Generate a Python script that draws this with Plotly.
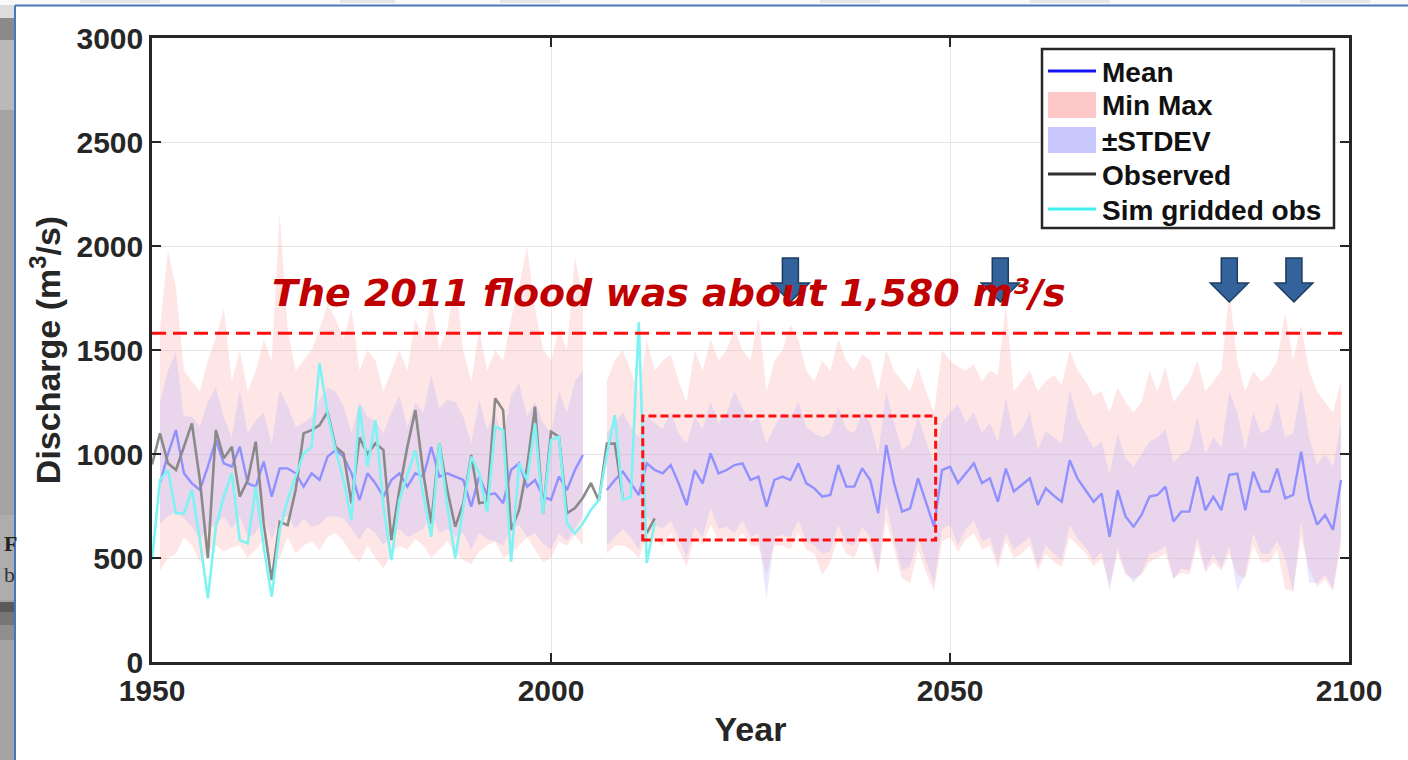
import plotly.graph_objects as go

# ---------------- data ----------------
years_obs = list(range(1950, 2014))
observed = [950, 1099, 955, 923, 1035, 1147, 875, 500, 1115, 979,
            1035, 795, 875, 1059, 666, 394, 674, 658, 827, 1099,
            1115, 1139, 1203, 1035, 1003, 763, 1080, 1000, 1051, 1019,
            586, 827, 1035, 1211, 907, 666, 1051, 827, 650, 763,
            995, 763, 771, 1268, 1211, 634, 731, 939, 1227, 715,
            1107, 1083, 715, 740, 790, 860, 775, 1050, 1050, 790,
            None, None, 620, 690]
sim_gridded = [490, 875, 923, 715, 715, 827, 586, 306, 650, 795,
               907, 586, 570, 843, 554, 314, 634, 779, 891, 1003,
               1035, 1436, 1195, 1019, 875, 682, 1227, 939, 1163, 747,
               490, 780, 900, 1019, 800, 602, 1051, 750, 498, 750,
               987, 907, 720, 1131, 1115, 482, 955, 875, 1147, 715,
               1067, 1083, 666, 618, 666, 731, 779, 1000, 1187, 779,
               795, 1635, 476, 668]

years_hist = list(range(1951, 2005))
mean_hist = [859, 1000, 1115, 907, 859, 827, 939, 1067, 955, 939,
             1035, 859, 843, 963, 795, 931, 931, 907, 843, 907,
             875, 987, 1019, 987, 907, 779, 907, 859, 795, 875,
             907, 843, 907, 891, 1035, 891, 907, 891, 875, 747,
             891, 803, 811, 763, 923, 955, 843, 875, 795, 779,
             891, 827, 923, 995]
sdhi_hist = [1250, 1400, 1490, 1180, 1180, 1130, 1250, 1320, 1180, 1080,
             1310, 1100, 1160, 1200, 1050, 1310, 1230, 1130, 1150, 1180,
             1260, 1320, 1300, 1230, 1100, 1250, 1180, 1160, 1100, 1200,
             1280, 1130, 1250, 1200, 1380, 1220, 1260, 1250, 1180, 1050,
             1260, 1120, 1200, 1080, 1280, 1340, 1180, 1250, 1150, 1100,
             1300, 1200, 1350, 1400]
sdlo_hist = [666, 700, 720, 690, 650, 586, 640, 660, 700, 640,
             700, 600, 620, 700, 586, 690, 700, 640, 690, 650,
             660, 700, 700, 690, 640, 586, 650, 620, 560, 620,
             640, 600, 620, 640, 720, 620, 640, 600, 620, 540,
             620, 590, 580, 560, 640, 660, 600, 620, 570, 540,
             620, 580, 640, 700]
min_hist = [440, 500, 520, 600, 560, 480, 530, 560, 530, 550,
            560, 500, 540, 590, 470, 500, 600, 520, 560, 580,
            540, 600, 620, 580, 520, 480, 560, 500, 450, 520,
            560, 540, 590, 560, 500, 540, 580, 520, 490, 470,
            530, 560, 580, 500, 520, 560, 600, 540, 480, 500,
            580, 560, 610, 560]
max_hist = [1600, 1980, 1800, 1400, 1350, 1300, 1450, 1560, 1700, 1350,
            1500, 1300, 1400, 1550, 1450, 2150, 1600, 1400, 1450, 1500,
            1600, 1720, 1650, 1550, 1700, 1400, 1500, 1450, 1300, 1400,
            1500, 1400, 1650, 1550, 1750, 1500, 1600, 1850, 1500, 1350,
            1600, 1400, 1500, 1450, 1650, 1800, 2000, 1700, 1500, 1450,
            1600, 1500, 1950, 1750]

years_fut = list(range(2007, 2100))
mean_fut = [827, 875, 915, 859,
            803, 955, 923, 907, 947, 859, 755, 923, 859, 1003,
            907, 923, 947, 955, 875, 891, 747, 875, 891, 875,
            955, 859, 835, 795, 803, 947, 843, 843, 931, 875,
            715, 1043, 859, 723, 739, 883, 763, 651, 923, 939,
            860, 910, 955, 860, 883, 770, 930, 820, 850, 883,
            755, 835, 800, 770, 970, 880, 826, 770, 810, 602,
            826, 700, 650, 707, 795, 803, 843, 675, 723, 723,
            890, 730, 795, 730, 900, 906, 730, 915, 820, 820,
            930, 787, 803, 1011, 780, 660, 707, 635, 875]
sdhi_fut = [1100, 1150, 1200, 1130,
            1080, 1180, 1150, 1120, 1200, 1100, 1050, 1180, 1120, 1250,
            1150, 1200, 1300, 1220, 1150, 1180, 1050, 1130, 1200, 1170,
            1250, 1130, 1100, 1080, 1100, 1230, 1120, 1100, 1200, 1150,
            1000, 1300, 1150, 1020, 1050, 1180, 1060, 950, 1150, 1200,
            1240, 1150, 1200, 1100, 1150, 1060, 1270, 1080, 1120, 1200,
            1020, 1110, 1080, 1050, 1310, 1170, 1100, 1030, 1060, 900,
            1100, 980, 940, 1000, 1060, 1080, 1120, 960, 1000, 1020,
            1180, 1000, 1080, 1030, 1300, 1200, 1020, 1200, 1100, 1120,
            1250, 1080, 1100, 1320, 1080, 950, 1000, 940, 1150]
sdlo_fut = [560, 600, 640, 600,
            540, 700, 660, 640, 680, 600, 500, 650, 600, 740,
            640, 650, 620, 680, 600, 620, 300, 600, 610, 600,
            680, 580, 560, 520, 530, 660, 570, 560, 650, 600,
            440, 760, 580, 440, 460, 600, 480, 380, 640, 660,
            560, 640, 680, 580, 600, 480, 620, 540, 570, 600,
            460, 560, 520, 490, 660, 590, 550, 490, 530, 340,
            550, 430, 380, 430, 520, 530, 560, 400, 450, 440,
            600, 440, 520, 450, 560, 340, 420, 620, 520, 520,
            580, 500, 330, 680, 380, 380, 420, 350, 600]
min_fut = [520, 560, 560, 540,
           500, 600, 590, 560, 620, 540, 460, 600, 560, 660,
           580, 600, 580, 620, 560, 560, 420, 560, 560, 540,
           620, 540, 520, 420, 480, 600, 520, 500, 600, 560,
           420, 680, 540, 400, 380, 540, 430, 340, 580, 600,
           530, 590, 620, 540, 560, 450, 580, 500, 520, 560,
           440, 520, 480, 460, 600, 560, 520, 460, 500, 370,
           520, 420, 400, 420, 480, 500, 520, 400, 430, 420,
           560, 430, 480, 440, 520, 420, 400, 560, 480, 480,
           540, 350, 340, 600, 450, 360, 400, 340, 560]
max_fut = [1350, 1450, 1500, 1400,
           1300, 1550, 1400, 1450, 1480, 1350, 1250, 1500, 1400, 1550,
           1450, 1500, 1600, 1500, 1450, 1660, 1300, 1450, 1500, 1620,
           1550, 1400, 1350, 1450, 1400, 1550, 1450, 1400, 1480, 1450,
           1300, 1500, 1400, 1350, 1300, 1420, 1300, 1200, 1500, 1450,
           1420, 1400, 1430, 1350, 1400, 1380, 1720, 1300, 1350, 1400,
           1300, 1350, 1380, 1330, 1500, 1400, 1350, 1280, 1300, 1200,
           1320, 1250, 1200, 1250, 1400, 1300, 1420, 1250, 1300, 1350,
           1450, 1300, 1350, 1400, 1780, 1450, 1300, 1400, 1350, 1380,
           1450, 1680, 1450, 1620, 1400, 1300, 1250, 1200, 1350]

flood_level = 1580
arrow_years = [2030.0, 2056.3, 2085.0, 2093.1]
box_years = [2011.5, 2048.2]
box_values = [587, 1183]
x_ticks = [1950, 2000, 2050, 2100]
y_ticks = [0, 500, 1000, 1500, 2000, 2500, 3000]
legend_names = ["Mean", "Min Max", "±STDEV", "Observed", "Sim gridded obs"]
legend_kinds = ["line", "patch", "patch", "line", "line"]
legend_colors = ["#1414f5", "#ffc8c8", "#c8c8ff", "#303030", "#40f0f0"]

# ---------------- styles ----------------
W, H = 1408, 760
L, R, T, B = 152, 59, 38, 98
PINK = "rgba(255,160,160,0.26)"
LAV = "rgba(170,170,255,0.26)"
FONT = "Liberation Sans, Arial, sans-serif"

fig = go.Figure()

def band(xs, lo, hi, color, name):
    fig.add_trace(go.Scatter(x=xs, y=lo, mode="lines", line=dict(width=0),
                             hoverinfo="skip", showlegend=False))
    fig.add_trace(go.Scatter(x=xs, y=hi, mode="lines", line=dict(width=0),
                             fill="tonexty", fillcolor=color, name=name,
                             showlegend=False))

band(years_hist, min_hist, max_hist, PINK, "Min Max")
band(years_fut, min_fut, max_fut, PINK, "Min Max")
band(years_hist, sdlo_hist, sdhi_hist, LAV, "±STDEV")
band(years_fut, sdlo_fut, sdhi_fut, LAV, "±STDEV")

fig.add_trace(go.Scatter(x=years_hist, y=mean_hist, mode="lines", name="Mean",
                         line=dict(color="#9090ff", width=2.4), showlegend=False))
fig.add_trace(go.Scatter(x=years_fut, y=mean_fut, mode="lines", name="Mean",
                         line=dict(color="#9090ff", width=2.4), showlegend=False))
fig.add_trace(go.Scatter(x=years_obs, y=observed, mode="lines", name="Observed",
                         line=dict(color="#8a8a8a", width=2.6), showlegend=False))
fig.add_trace(go.Scatter(x=years_obs, y=sim_gridded, mode="lines", name="Sim gridded obs",
                         line=dict(color="#7df3f3", width=2.6), showlegend=False))

shapes = []
# flood line
shapes.append(dict(type="line", xref="x", yref="y", x0=x_ticks[0], x1=x_ticks[-1],
                   y0=flood_level, y1=flood_level,
                   line=dict(color="#ff1010", width=3, dash="14px,7px"), layer="above"))
# dashed box
shapes.append(dict(type="rect", xref="x", yref="y", x0=box_years[0], x1=box_years[1],
                   y0=box_values[0], y1=box_values[1],
                   line=dict(color="#ff1010", width=3, dash="8px,4px"), layer="above"))
# arrows (sizes in pixels converted to data units)
px_per_year = (W - L - R) / (x_ticks[-1] - x_ticks[0])
px_per_val = (H - T - B) / (y_ticks[-1] - y_ticks[0])
def yv(py):
    return (H - B - py) / px_per_val
for ay in arrow_years:
    sh = 8 / px_per_year
    hh = 19 / px_per_year
    ytop, ymid, ytip = yv(258), yv(283), yv(302)
    path = (f"M {ay-sh},{ytop} L {ay+sh},{ytop} L {ay+sh},{ymid} L {ay+hh},{ymid} "
            f"L {ay},{ytip} L {ay-hh},{ymid} L {ay-sh},{ymid} Z")
    shapes.append(dict(type="path", xref="x", yref="y", path=path,
                       fillcolor="#33639a", line=dict(color="#1e3c60", width=1.5),
                       layer="above"))

# pixel -> paper helpers
def pxp(px):
    return (px - L) / (W - L - R)
def pyp(py):
    return (H - B - py) / (H - T - B)
def prect(x0, y0, x1, y1, color, lc=None, lw=0):
    shapes.append(dict(type="rect", xref="paper", yref="paper",
                       x0=pxp(x0), x1=pxp(x1), y0=pyp(y1), y1=pyp(y0),
                       fillcolor=color, line=dict(width=lw, color=lc or color),
                       layer="above"))

# page decorations
prect(0, 0, 15, 760, "#a3a3a3")
prect(0, 0, 15, 18, "#dcdcdc")
prect(0, 18, 15, 40, "#8a8a8a")
prect(0, 40, 15, 110, "#b9b9b9")
prect(0, 515, 15, 600, "#adadad")
prect(0, 602, 15, 612, "#5a5a5a")
prect(0, 612, 15, 625, "#767676")
prect(0, 625, 15, 640, "#8e8e8e")
prect(0, 0, W, 5, "#f9f9f9")
for (a, b_) in [(80, 160), (340, 395), (500, 560), (820, 880), (1030, 1110), (1300, 1370)]:
    prect(a, 0, b_, 3, "#e6e6e6")
shapes.append(dict(type="line", xref="paper", yref="paper", x0=pxp(15), x1=pxp(W),
                   y0=pyp(5.5), y1=pyp(5.5), line=dict(color="#4a76b8", width=2), layer="above"))
shapes.append(dict(type="line", xref="paper", yref="paper", x0=pxp(15), x1=pxp(15),
                   y0=pyp(5.5), y1=pyp(760), line=dict(color="#4a76b8", width=2), layer="above"))

annotations = [
    dict(xref="x", yref="y", x=1964.8, y=yv(293), xanchor="left", yanchor="middle",
         text="The 2011 flood was about 1,580 m³/s", showarrow=False,
         font=dict(family="DejaVu Sans", size=38, color="#c00000", weight="bold",
                   style="italic")),
    dict(xref="paper", yref="paper", x=pxp(2), y=pyp(543), xanchor="left", yanchor="middle",
         text="F", showarrow=False,
         font=dict(family="Liberation Serif", size=22, color="#222222", weight="bold")),
    dict(xref="paper", yref="paper", x=pxp(2), y=pyp(574), xanchor="left", yanchor="middle",
         text="b", showarrow=False,
         font=dict(family="Liberation Serif", size=22, color="#333333")),
]

# legend box (drawn manually to match the patch style)
prect(1042, 49, 1334, 228, "white", lc="#262626", lw=2.5)
leg_rows = [71, 105, 140, 174, 209]
for name, kind, col, ry in zip(legend_names, legend_kinds, legend_colors, leg_rows):
    if kind == "line":
        shapes.append(dict(type="line", xref="paper", yref="paper",
                           x0=pxp(1048), x1=pxp(1096), y0=pyp(ry), y1=pyp(ry),
                           line=dict(color=col, width=3), layer="above"))
    else:
        prect(1048, ry - 13, 1096, ry + 13, col)
    annotations.append(dict(xref="paper", yref="paper", x=pxp(1100), y=pyp(ry + 1),
                            xanchor="left", yanchor="middle", text=name, showarrow=False,
                            font=dict(family=FONT, size=28, color="#111111", weight="bold")))

axis_common = dict(showline=True, linecolor="#262626", linewidth=2.5, mirror="ticks",
                   ticks="inside", ticklen=9, tickwidth=2, tickcolor="#262626",
                   showgrid=True, gridcolor="#e6e6e6", gridwidth=1.2, zeroline=False,
                   tickfont=dict(family=FONT, size=30, color="#262626", weight="bold"))

fig.update_layout(
    width=W, height=H,
    margin=dict(l=L, r=R, t=T, b=B),
    paper_bgcolor="white", plot_bgcolor="white",
    xaxis=dict(range=[x_ticks[0], x_ticks[-1]], tickvals=x_ticks,
               title=dict(text="Year", standoff=12,
                          font=dict(family=FONT, size=34, color="#262626", weight="bold")),
               **axis_common),
    yaxis=dict(range=[y_ticks[0], y_ticks[-1]], tickvals=y_ticks,
               title=dict(text="Discharge (m<sup>3</sup>/s)", standoff=6,
                          font=dict(family=FONT, size=34, color="#262626", weight="bold")),
               **axis_common),
    shapes=shapes, annotations=annotations, showlegend=False,
)

fig.write_html("out.html", config={"displayModeBar": False},
               post_script="document.body.style.margin='0px';document.body.style.overflow='hidden';")
